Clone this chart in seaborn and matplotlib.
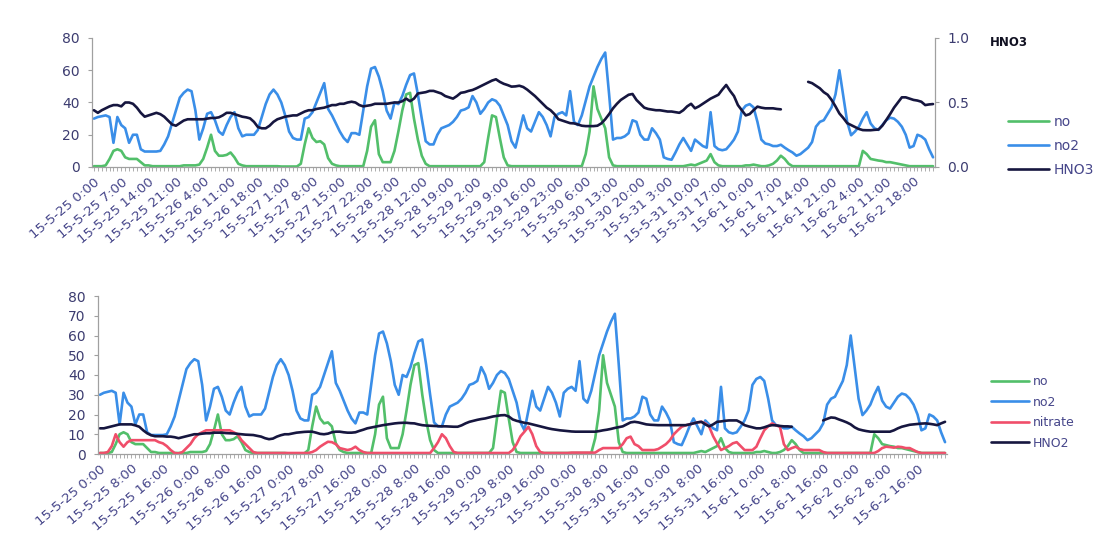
import numpy as np
import pandas as pd
import matplotlib
matplotlib.use("Agg")
import matplotlib.pyplot as plt
from matplotlib.ticker import FixedLocator, MultipleLocator, FormatStrFormatter
import seaborn as sns

nan = np.nan

# ---------------- data (hourly, 15-5-25 0:00 .. 15-6-2 23:00) ----------------
no = [
    0.5, 0.5, 0.5, 1, 5, 10, 11, 10, 6, 5, 5, 5, 3, 1, 1, 0.5, 0.5, 0.5, 0.5, 0.5, 0.5, 0.5, 0.5, 1,
    1, 1, 1, 1.5, 5, 12, 20, 10, 7, 7, 7.5, 9, 6, 2, 1, 0.5, 0.5, 0.5, 0.5, 0.5, 0.5, 0.5, 0.5, 0.5,
    0.3, 0.3, 0.3, 0.3, 0.3, 2, 14, 24, 18, 15.5, 16, 14, 5.5, 2, 1, 0.5, 0.5, 0.5, 0.5, 0.5, 0.5, 0.5, 10, 25,
    29, 8, 3, 3, 3, 10, 22, 35, 45, 46, 30, 17, 7, 2, 0.5, 0.5, 0.5, 0.5, 0.5, 0.5, 0.5, 0.5, 0.5, 0.5,
    0.5, 0.5, 0.5, 0.5, 3, 18, 32, 31, 18, 6, 1, 0.5, 0.5, 0.5, 0.5, 0.5, 0.5, 0.5, 0.5, 0.5, 0.5, 0.5, 0.5, 0.5,
    0.5, 0.5, 0.5, 0.5, 0.5, 0.5, 8, 22, 50, 36, 30, 24, 6, 1, 0.5, 0.5, 0.5, 0.5, 0.5, 0.5, 0.5, 0.5, 0.5, 0.5,
    0.5, 0.5, 0.5, 0.5, 0.5, 0.5, 0.5, 0.5, 1, 1.5, 1, 2, 3, 4, 8, 3, 1, 0.5, 0.5, 0.5, 0.5, 0.5, 0.5, 1,
    1, 1.5, 1, 0.5, 0.5, 1, 2, 4, 7, 5, 2, 0.5, 0.5, 0.5, 0.5, 0.5, 0.5, 0.5, 0.5, 0.5, 0.5, 0.5, 0.5, 0.5,
    0.5, 0.5, 0.5, 0.5, 0.5, 10, 8, 5, 4.5, 4, 3.7, 3, 3, 2.5, 2, 1.5, 1, 0.5, 0.5, 0.5, 0.5, 0.5, 0.5, 0.5,
]
no2 = [
    30, 31, 31.5, 32, 31, 15, 31, 26, 24, 15, 20, 20, 11, 9.6, 9.6, 9.6, 9.6, 10, 14, 19, 27, 35, 43, 46,
    48, 47, 35, 17, 24, 33, 34, 29, 22, 20, 26, 31, 34, 24, 19, 20, 20, 20, 23, 31, 39, 45, 48, 45,
    40, 32, 22, 18, 17, 17, 30, 31, 34, 40, 46, 52, 36, 32, 27, 22, 18, 15.5, 21, 21, 20, 35, 50, 61,
    62, 56, 47, 35, 30, 40, 39, 44, 51, 57, 58, 45, 30, 16, 14, 14, 20, 24, 25, 26, 28, 31, 35, 35.7,
    37, 44, 40, 33, 36, 40, 42, 41, 38, 32, 26, 16, 12, 22, 32, 24, 22, 28, 34, 31, 26, 19, 31, 33,
    34, 32, 47, 28, 26, 32, 41, 50, 56, 62, 67, 71, 45, 17, 18, 18, 19, 21, 29, 28, 20, 17, 17, 24,
    21, 17, 6, 5, 4.5, 9, 14, 18, 14, 10, 17, 15, 13, 12, 34, 13, 11, 10.4, 11, 13.8, 17, 22, 35, 38,
    39, 37, 28, 17, 14.6, 14, 13, 13, 13.8, 12, 10.4, 9, 7, 8, 10, 12, 15.5, 25, 28, 29, 33, 37, 45, 60,
    44, 28, 19.7, 22, 25, 30, 34, 27, 24, 23, 26, 29, 30.6, 30, 28, 25, 20, 12, 13, 20, 19, 17, 11, 6,
]
nitrate = [
    0.5, 0.5, 1, 4, 10, 6, 3.7, 6, 7, 7, 7, 7, 7, 7, 7, 6, 5.4, 4, 2, 0.5, 0.3, 1, 3, 5,
    8, 10, 11, 12, 12, 12, 12, 12, 12, 12, 11, 10, 7, 5, 3, 1, 0.5, 0.5, 0.5, 0.5, 0.5, 0.5, 0.5, 0.5,
    0.5, 0.5, 0.5, 0.5, 0.5, 0.5, 1, 2, 3.7, 5, 6.2, 6, 5, 3, 2.5, 2, 2.5, 3.7, 2, 1, 0.5, 0.5, 0.5, 0.5,
    0.5, 0.5, 0.5, 0.5, 0.5, 0.5, 0.5, 0.5, 0.5, 0.5, 0.5, 0.5, 0.5, 3, 6, 10, 8, 4, 1, 0.5, 0.5, 0.5, 0.5, 0.5,
    0.5, 0.5, 0.5, 0.5, 0.5, 0.5, 0.5, 0.5, 0.5, 2, 5, 9, 11.3, 13.8, 10, 4, 1, 0.5, 0.5, 0.5, 0.5, 0.5, 0.5, 0.5,
    0.7, 0.7, 0.7, 0.7, 0.7, 0.7, 0.7, 2, 3, 3, 3, 3, 3, 5, 8, 8.8, 5, 4, 2, 2, 2, 2, 2.5, 3.7,
    5, 7, 10, 12, 13.8, 14.5, 15, 15.5, 16, 16.3, 15.5, 13.8, 9, 5.4, 2, 3, 4, 5.4, 6, 4, 2, 2, 2, 3.7,
    8, 12, 14, 15.5, 14.5, 13.8, 5, 2, 3, 3.7, 2.5, 2, 2, 2, 2, 2, 1, 0.5, 0.5, 0.5, 0.5, 0.5, 0.5, 0.5,
    0.5, 0.5, 0.5, 0.5, 0.5, 0.5, 1.5, 3, 3.7, 3.5, 3.2, 3.7, 3.5, 3, 3, 2, 1, 0.5, 0.5, 0.5, 0.5, 0.5, 0.5, 0.5,
]
hno2 = [
    13, 13, 13.5, 14, 14.5, 15, 15, 15, 15, 14.5, 13.8, 12, 10.5, 9.5, 9, 9, 9, 8.8, 8.8, 8.5, 8, 8.5, 9, 9.5,
    10, 10, 10.3, 10.5, 10.5, 10.8, 10.8, 10.8, 10.6, 10.5, 10.4, 10.2, 10, 9.8, 9.7, 9.6, 9.2, 8.8, 8, 7.5, 7.8, 8.8, 9.5, 10,
    10, 10.4, 10.8, 11, 11.2, 11.3, 11.3, 10.8, 10.2, 10, 10.3, 11, 11.3, 11.3, 11, 10.8, 10.8, 11, 11.7, 12.3, 13, 13.4, 13.8, 14.2,
    14.6, 14.9, 15.2, 15.5, 15.7, 15.8, 15.8, 15.6, 15.5, 15, 14.6, 14.4, 14.3, 14.2, 14.1, 14, 14, 13.9, 13.8, 13.8, 14.5, 15.5, 16.3, 16.8,
    17.3, 17.7, 18, 18.5, 19, 19.3, 19.6, 19.7, 19, 17.5, 16.8, 16.3, 15.8, 15.5, 15, 14.5, 14, 13.5, 13, 12.6, 12.3, 12, 11.8, 11.6,
    11.4, 11.3, 11.3, 11.3, 11.3, 11.3, 11.3, 11.6, 12, 12.3, 12.7, 13.2, 13.6, 14, 15, 16, 16.3, 16, 15.5, 15, 14.8, 14.7, 14.6, 14.6,
    14.6, 14.6, 14.6, 14.6, 14.6, 14.6, 15, 15.5, 16, 16.3, 15, 14, 15, 16.3, 16.5, 16.8, 17, 17, 17, 16, 14.6, 14, 13.5, 13,
    13, 13.5, 14.2, 14.6, 14.5, 14.2, 14, 14, 13.8, nan, nan, nan, nan, nan, nan, nan, 17, 17.8, 18.5, 18.3, 17.5, 16.8, 16, 15,
    13.5, 12.5, 12, 11.6, 11.3, 11.3, 11.3, 11.3, 11.3, 11.3, 12, 13, 13.8, 14.3, 14.8, 15, 15.2, 15.4, 15.5, 15.3, 15, 14.6, 15.5, 16.3,
]
hno3 = [
    0.44, 0.42, 0.44, 0.455, 0.47, 0.48, 0.48, 0.47, 0.5, 0.5, 0.49, 0.46, 0.42, 0.39, 0.40, 0.41, 0.42, 0.41, 0.39, 0.36, 0.33, 0.32, 0.34, 0.36,
    0.37, 0.37, 0.37, 0.37, 0.37, 0.375, 0.38, 0.38, 0.385, 0.40, 0.42, 0.42, 0.41, 0.40, 0.39, 0.385, 0.377, 0.35, 0.31, 0.30, 0.30, 0.32, 0.35, 0.37,
    0.38, 0.39, 0.395, 0.40, 0.40, 0.415, 0.43, 0.44, 0.44, 0.45, 0.455, 0.46, 0.47, 0.48, 0.48, 0.49, 0.49, 0.50, 0.506, 0.50, 0.48, 0.47, 0.475, 0.48,
    0.49, 0.49, 0.49, 0.49, 0.495, 0.5, 0.5, 0.51, 0.53, 0.51, 0.53, 0.57, 0.575, 0.58, 0.59, 0.59, 0.58, 0.57, 0.55, 0.54, 0.53, 0.55, 0.575, 0.58,
    0.59, 0.597, 0.61, 0.625, 0.64, 0.655, 0.67, 0.68, 0.66, 0.645, 0.635, 0.623, 0.625, 0.63, 0.62, 0.6, 0.575, 0.55, 0.52, 0.49, 0.46, 0.44, 0.41, 0.37,
    0.36, 0.35, 0.34, 0.338, 0.33, 0.32, 0.317, 0.317, 0.317, 0.32, 0.338, 0.37, 0.41, 0.455, 0.49, 0.52, 0.54, 0.56, 0.566, 0.52, 0.49, 0.46, 0.45, 0.445,
    0.44, 0.44, 0.435, 0.43, 0.43, 0.425, 0.42, 0.44, 0.47, 0.49, 0.455, 0.47, 0.49, 0.51, 0.53, 0.545, 0.56, 0.6, 0.636, 0.59, 0.55, 0.48, 0.44, 0.40,
    0.41, 0.44, 0.468, 0.46, 0.455, 0.455, 0.455, 0.45, 0.447, nan, nan, nan, nan, nan, nan, 0.66, 0.65, 0.63, 0.61, 0.58, 0.56, 0.52, 0.47, 0.415,
    0.38, 0.34, 0.325, 0.31, 0.295, 0.286, 0.285, 0.285, 0.288, 0.29, 0.32, 0.364, 0.41, 0.46, 0.5, 0.54, 0.54, 0.53, 0.52, 0.515, 0.506, 0.48, 0.485, 0.488,
]

top_ticks = [
    "15-5-25 0:00", "15-5-25 7:00", "15-5-25 14:00", "15-5-25 21:00", "15-5-26 4:00",
    "15-5-26 11:00", "15-5-26 18:00", "15-5-27 1:00", "15-5-27 8:00", "15-5-27 15:00",
    "15-5-27 22:00", "15-5-28 5:00", "15-5-28 12:00", "15-5-28 19:00", "15-5-29 2:00",
    "15-5-29 9:00", "15-5-29 16:00", "15-5-29 23:00", "15-5-30 6:00", "15-5-30 13:00",
    "15-5-30 20:00", "15-5-31 3:00", "15-5-31 10:00", "15-5-31 17:00", "15-6-1 0:00",
    "15-6-1 7:00", "15-6-1 14:00", "15-6-1 21:00", "15-6-2 4:00", "15-6-2 11:00",
    "15-6-2 18:00",
]
bottom_ticks = [
    "15-5-25 0:00", "15-5-25 8:00", "15-5-25 16:00", "15-5-26 0:00", "15-5-26 8:00",
    "15-5-26 16:00", "15-5-27 0:00", "15-5-27 8:00", "15-5-27 16:00", "15-5-28 0:00",
    "15-5-28 8:00", "15-5-28 16:00", "15-5-29 0:00", "15-5-29 8:00", "15-5-29 16:00",
    "15-5-30 0:00", "15-5-30 8:00", "15-5-30 16:00", "15-5-31 0:00", "15-5-31 8:00",
    "15-5-31 16:00", "15-6-1 0:00", "15-6-1 8:00", "15-6-1 16:00", "15-6-2 0:00",
    "15-6-2 8:00", "15-6-2 16:00",
]

# ---------------- style ----------------
sns.set_style("white")
plt.rcParams["font.family"] = ["DejaVu Sans"]

C_NO = "#52bf6a"
C_NO2 = "#3a8ee8"
C_NIT = "#f04e6a"
C_DARK = "#16163f"
C_TXT = "#46468a"
C_AX = "#a0a0a0"

n = len(no2)
hours = np.arange(n)
df = pd.DataFrame({"hour": hours, "no": no, "no2": no2, "nitrate": nitrate,
                   "HNO2": hno2, "HNO3": hno3})

fig = plt.figure(figsize=(11.14, 5.38), dpi=100)
W, H = 1114, 538


def axes_px(l, t, r, b):
    return fig.add_axes([l / W, 1 - b / H, (r - l) / W, (b - t) / H])


def seg_plot(ax, col, color, label):
    # split at gaps so that missing hours break the line
    vals = df[col].to_numpy()
    ok = ~np.isnan(vals)
    grp = np.cumsum(~ok)
    first = True
    for g in np.unique(grp[ok]):
        sub = df[ok & (grp == g)]
        sns.lineplot(data=sub, x="hour", y=col, ax=ax, color=color, lw=1.9,
                     label=label if first else None, legend=False)
        first = False


def style_axis(ax, ticks, labels):
    for s in ["top", "right"]:
        ax.spines[s].set_visible(False)
    for s in ["left", "bottom"]:
        ax.spines[s].set_color(C_AX)
        ax.spines[s].set_linewidth(0.9)
    ax.set_xlim(-0.5, n - 0.5)
    ax.xaxis.set_major_locator(FixedLocator(ticks))
    ax.set_xticklabels(labels, rotation=40, ha="right", rotation_mode="anchor",
                       fontsize=9.6, color=C_TXT)
    ax.xaxis.set_minor_locator(MultipleLocator(1))
    ax.tick_params(axis="x", which="both", direction="out", length=3, width=0.6,
                   color=C_AX, bottom=True, pad=3)
    ax.tick_params(axis="y", direction="out", length=3, width=0.8, color=C_AX,
                   labelsize=10, labelcolor="#3c3c70", left=True, pad=6)
    ax.set_xlabel("")
    ax.set_ylabel("")


# ---------------- top panel ----------------
ax1 = axes_px(92, 38, 935, 167)
sns.lineplot(data=df, x="hour", y="no", ax=ax1, color=C_NO, lw=1.9, label="no", legend=False)
sns.lineplot(data=df, x="hour", y="no2", ax=ax1, color=C_NO2, lw=1.9, label="no2", legend=False)
ax1.set_ylim(0, 80)
ax1.set_yticks([0, 20, 40, 60, 80])
style_axis(ax1, list(range(0, 211, 7)), top_ticks)

ax1r = ax1.twinx()
seg_plot(ax1r, "HNO3", C_DARK, "HNO3")
ax1r.set_ylim(0, 1.0)
ax1r.set_yticks([0.0, 0.5, 1.0])
ax1r.yaxis.set_major_formatter(FormatStrFormatter("%.1f"))
for s in ["top", "left", "bottom"]:
    ax1r.spines[s].set_visible(False)
ax1r.spines["right"].set_color(C_AX)
ax1r.spines["right"].set_linewidth(0.9)
ax1r.tick_params(axis="y", direction="out", length=3, width=0.8, color=C_AX,
                 labelsize=10, labelcolor="#3c3c70", right=True, pad=6)
ax1r.set_ylabel("")
fig.text(990 / W, 1 - 42 / H, "HNO3", fontsize=8.5, fontweight="bold",
         color="#111122", va="center", ha="left")

h1, l1 = ax1.get_legend_handles_labels()
h2, l2 = ax1r.get_legend_handles_labels()
fig.legend(h1 + h2, l1 + l2, loc="upper left", bbox_to_anchor=(995 / W, 1 - 102 / H),
           frameon=False, fontsize=10, handlelength=3.0, handletextpad=0.3,
           labelspacing=0.75, labelcolor=C_TXT)

# ---------------- bottom panel ----------------
ax2 = axes_px(98, 296, 947, 454)
sns.lineplot(data=df, x="hour", y="no", ax=ax2, color=C_NO, lw=1.9, label="no", legend=False)
sns.lineplot(data=df, x="hour", y="no2", ax=ax2, color=C_NO2, lw=1.9, label="no2", legend=False)
sns.lineplot(data=df, x="hour", y="nitrate", ax=ax2, color=C_NIT, lw=1.9, label="nitrate", legend=False)
seg_plot(ax2, "HNO2", C_DARK, "HNO2")
ax2.set_ylim(0, 80)
ax2.set_yticks(list(range(0, 81, 10)))
style_axis(ax2, list(range(0, 209, 8)), bottom_ticks)

h3, l3 = ax2.get_legend_handles_labels()
fig.legend(h3, l3, loc="upper left", bbox_to_anchor=(980 / W, 1 - 364 / H),
           frameon=False, fontsize=9, handlelength=3.0, handletextpad=0.3,
           labelspacing=0.6, labelcolor=C_TXT)

fig.savefig("out.png", dpi=100)
